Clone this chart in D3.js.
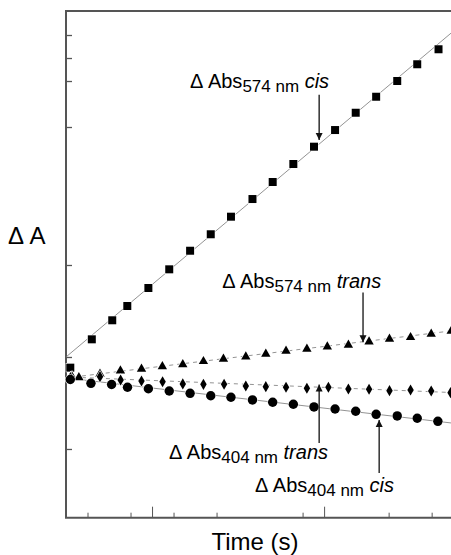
<!DOCTYPE html>
<html>
<head>
<meta charset="utf-8">
<script src="https://cdn.jsdelivr.net/npm/d3@7"></script>
<style>
  body { margin: 0; background: #fff; }
  svg { display: block; font-family: "Liberation Sans", Arial, sans-serif; }
</style>
</head>
<body>
<div id="chart"></div>
<script>
"use strict";

// ΔAbs 574 nm, cis (squares)
var cis574X = [0.2, 1.2, 2.15, 2.85, 3.83, 4.8, 5.77, 6.73, 7.67, 8.67, 9.61, 10.57, 11.53, 12.51, 13.47, 14.42, 15.4, 16.33, 17.32];
var cis574Y = [0.884, 1.192, 1.399, 1.554, 1.75, 1.953, 2.155, 2.334, 2.525, 2.717, 2.902, 3.098, 3.286, 3.467, 3.655, 3.829, 4.0, 4.182, 4.345];

// ΔAbs 574 nm, trans (triangles)
var trans574X = [0.28, 0.6, 1.58, 2.53, 3.51, 4.48, 5.43, 6.39, 7.32, 8.36, 9.29, 10.23, 11.2, 12.15, 13.13, 14.09, 15.04, 16.02, 16.98, 17.91];
var trans574Y = [0.786, 0.777, 0.815, 0.851, 0.87, 0.897, 0.918, 0.953, 0.978, 1.003, 1.033, 1.065, 1.087, 1.112, 1.13, 1.166, 1.196, 1.214, 1.25, 1.283];

// ΔAbs 404 nm, trans (diamonds)
var trans404X = [0.21, 1.58, 2.54, 3.51, 4.49, 5.43, 6.39, 7.35, 8.36, 9.29, 10.23, 11.2, 12.2, 13.13, 14.09, 15.04, 16.02, 16.98, 17.88];
var trans404Y = [0.777, 0.786, 0.75, 0.739, 0.731, 0.707, 0.703, 0.704, 0.685, 0.677, 0.671, 0.66, 0.671, 0.652, 0.649, 0.634, 0.641, 0.63, 0.612];

// ΔAbs 404 nm, cis (circles)
var cis404X = [0.2, 1.16, 2.12, 2.86, 3.83, 4.8, 5.77, 6.73, 7.67, 8.67, 9.61, 10.57, 11.53, 12.51, 13.47, 14.42, 15.4, 16.33, 17.29];
var cis404Y = [0.755, 0.714, 0.701, 0.671, 0.655, 0.63, 0.605, 0.579, 0.562, 0.533, 0.508, 0.486, 0.457, 0.435, 0.41, 0.377, 0.359, 0.334, 0.301];

// fitted lines, [start, end]
var fitX = [0, 17.9];
var fitCis574 = [1.0, 4.52];
var fitTrans574 = [0.772, 1.283];
var fitTrans404 = [0.783, 0.614];
var fitCis404 = [0.772, 0.283];

// tick values (no tick labels in the original)
var xMinorTicks = [1, 3, 5, 7, 11, 15, 17];
var xMajorTicks = [4, 12];
var yTicks = [0, 1, 2, 3.5, 4, 4.25, 4.5];

// annotations: label anchor and arrow (from -> to), in data units
var annoNames = ["574 nm", "574 nm", "404 nm", "404 nm"];
var annoForms = ["cis", "trans", "trans", "cis"];
var annoTextX = [5.77, 7.26, 4.79, 8.79];
var annoTextY = [3.92, 1.75, -0.11, -0.47];
var arrowX = [11.77, 13.81, 11.77, 14.56];
var arrowFromY = [3.85, 1.70, 0.065, -0.26];
var arrowToY = [3.36, 1.16, 0.70, 0.315];

var W = 451, H = 555;
var plotL = 66, plotT = 11, plotR = 451, plotB = 517.7;

var svg = d3.select("#chart").append("svg")
    .attr("width", W)
    .attr("height", H);

svg.append("defs").append("marker")
    .attr("id", "arrow")
    .attr("viewBox", "0 0 10 10")
    .attr("refX", 10).attr("refY", 5)
    .attr("markerWidth", 7).attr("markerHeight", 9)
    .attr("markerUnits", "userSpaceOnUse")
    .attr("orient", "auto")
    .append("path")
    .attr("d", "M0,0 L10,5 L0,10 Z")
    .attr("fill", "#111");

var x = d3.scaleLinear().domain([0, 17.9]).range([plotL, plotR]);
var y = d3.scaleLinear().domain([-0.747, 4.761]).range([plotB, plotT]);

var axisColor = "#555";

// inward ticks on the left axis
svg.append("g")
   .attr("transform", "translate(" + plotL + ",0)")
   .call(d3.axisRight(y).tickValues(yTicks).tickSize(6).tickFormat(""))
   .call(function (g) { g.select(".domain").remove(); })
   .selectAll("line").attr("stroke", axisColor).attr("stroke-width", 1.3);

// inward ticks on the bottom axis
svg.append("g")
   .attr("transform", "translate(0," + plotB + ")")
   .call(d3.axisTop(x).tickValues(xMinorTicks).tickSize(5).tickFormat(""))
   .call(function (g) { g.select(".domain").remove(); })
   .selectAll("line").attr("stroke", axisColor).attr("stroke-width", 1);

svg.append("g")
   .attr("transform", "translate(0," + plotB + ")")
   .call(d3.axisTop(x).tickValues(xMajorTicks).tickSize(11).tickFormat(""))
   .call(function (g) { g.select(".domain").remove(); })
   .selectAll("line").attr("stroke", axisColor).attr("stroke-width", 1);

// frame: left, bottom, top (right side is cut off)
svg.append("path")
   .attr("d", "M" + plotR + "," + plotT + "H" + plotL + "V" + plotB + "H" + plotR)
   .attr("fill", "none")
   .attr("stroke", axisColor)
   .attr("stroke-width", 2);

// fit lines
var fits = [
  { v: fitCis574, dash: null },
  { v: fitTrans574, dash: "4,4" },
  { v: fitTrans404, dash: "4,4" },
  { v: fitCis404, dash: null }
];
var line = d3.line()
    .x(function (d) { return x(d[0]); })
    .y(function (d) { return y(d[1]); });

fits.forEach(function (f) {
  svg.append("path")
     .datum(d3.zip(fitX, f.v))
     .attr("d", line)
     .attr("fill", "none")
     .attr("stroke", "#777")
     .attr("stroke-width", 0.8)
     .attr("stroke-dasharray", f.dash);
});

// markers
var series = [
  { xs: cis574X, ys: cis574Y, type: d3.symbolSquare, size: 64 },
  { xs: trans574X, ys: trans574Y, type: d3.symbolTriangle, size: 38 },
  { xs: trans404X, ys: trans404Y, type: d3.symbolDiamond, size: 36 },
  { xs: cis404X, ys: cis404Y, type: d3.symbolCircle, size: 70 }
];

series.forEach(function (s) {
  svg.append("g")
     .selectAll("path")
     .data(d3.zip(s.xs, s.ys))
     .enter()
     .append("path")
     .attr("transform", function (d) { return "translate(" + x(d[0]) + "," + y(d[1]) + ")"; })
     .attr("d", d3.symbol().type(s.type).size(s.size))
     .attr("fill", "#000")
     .attr("stroke", "#fff")
     .attr("stroke-width", 1.2)
     .attr("paint-order", "stroke");
});

// annotations
annoNames.forEach(function (name, i) {
  var t = svg.append("text")
     .attr("x", x(annoTextX[i]))
     .attr("y", y(annoTextY[i]))
     .attr("font-size", 20)
     .attr("fill", "#000");
  t.append("tspan").text("\u0394 Abs");
  t.append("tspan").attr("dy", 4).attr("font-size", 17).text(name);
  t.append("tspan").attr("dy", -4).attr("font-style", "italic").text("\u00a0" + annoForms[i]);

  svg.append("line")
     .attr("x1", x(arrowX[i])).attr("y1", y(arrowFromY[i]))
     .attr("x2", x(arrowX[i])).attr("y2", y(arrowToY[i]))
     .attr("stroke", "#111")
     .attr("stroke-width", 1.3)
     .attr("marker-end", "url(#arrow)");
});

// axis titles
svg.append("text")
   .attr("x", 8)
   .attr("y", 244)
   .attr("font-size", 24)
   .text("\u0394 A");

svg.append("text")
   .attr("x", 255)
   .attr("y", 550)
   .attr("text-anchor", "middle")
   .attr("font-size", 24)
   .text("Time (s)");
</script>
</body>
</html>
